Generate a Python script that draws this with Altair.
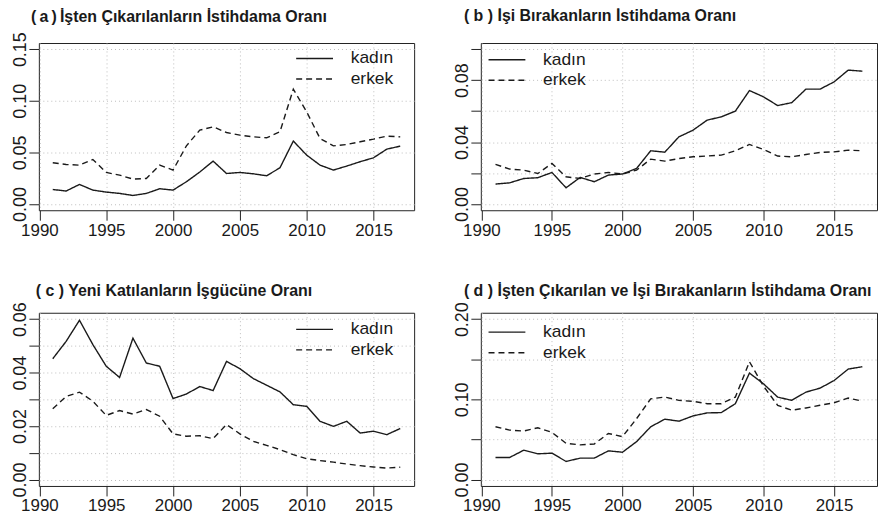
import altair as alt
import pandas as pd

years = list(range(1991, 2018))
series_names = ["kadın", "erkek"]

a_kadin = [0.0141, 0.0126, 0.0190, 0.0135, 0.0116, 0.0103, 0.0083, 0.0103, 0.0148, 0.0135,
           0.0216, 0.0310, 0.0416, 0.0296, 0.0306, 0.0293, 0.0274, 0.0351, 0.0610, 0.0474,
           0.0377, 0.0329, 0.0368, 0.0410, 0.0448, 0.0532, 0.0561]
a_erkek = [0.0400, 0.0383, 0.0377, 0.0432, 0.0306, 0.0280, 0.0242, 0.0248, 0.0377, 0.0329,
           0.0564, 0.0716, 0.0748, 0.0693, 0.0668, 0.0651, 0.0642, 0.0700, 0.1113, 0.0893,
           0.0635, 0.0564, 0.0577, 0.0603, 0.0629, 0.0658, 0.0651]

b_kadin = [0.0129, 0.0137, 0.0165, 0.0170, 0.0204, 0.0105, 0.0172, 0.0144, 0.0187, 0.0194,
           0.0230, 0.0344, 0.0335, 0.0434, 0.0477, 0.0542, 0.0563, 0.0600, 0.0733, 0.0692,
           0.0636, 0.0655, 0.0742, 0.0742, 0.0789, 0.0865, 0.0858]
b_erkek = [0.0256, 0.0226, 0.0219, 0.0197, 0.0262, 0.0176, 0.0165, 0.0194, 0.0204, 0.0194,
           0.0219, 0.0290, 0.0277, 0.0294, 0.0305, 0.0310, 0.0316, 0.0344, 0.0385, 0.0352,
           0.0310, 0.0305, 0.0320, 0.0333, 0.0337, 0.0348, 0.0344]

c_kadin = [0.0452, 0.0517, 0.0596, 0.0505, 0.0424, 0.0382, 0.0529, 0.0436, 0.0424, 0.0303,
           0.0320, 0.0348, 0.0333, 0.0442, 0.0415, 0.0378, 0.0353, 0.0328, 0.0280, 0.0274,
           0.0218, 0.0199, 0.0218, 0.0174, 0.0181, 0.0168, 0.0191]
c_erkek = [0.0265, 0.0311, 0.0327, 0.0293, 0.0240, 0.0258, 0.0245, 0.0262, 0.0237, 0.0171,
           0.0162, 0.0164, 0.0153, 0.0206, 0.0171, 0.0143, 0.0128, 0.0112, 0.0093, 0.0078,
           0.0071, 0.0065, 0.0058, 0.0052, 0.0047, 0.0043, 0.0046]

d_kadin = [0.0275, 0.0275, 0.0366, 0.0321, 0.0329, 0.0226, 0.0267, 0.0267, 0.0358, 0.0341,
           0.0473, 0.0658, 0.0753, 0.0728, 0.0794, 0.0831, 0.0835, 0.0946, 0.1328, 0.1193,
           0.1028, 0.0988, 0.1090, 0.1140, 0.1235, 0.1378, 0.1407]
d_erkek = [0.0658, 0.0617, 0.0605, 0.0646, 0.0588, 0.0452, 0.0432, 0.0444, 0.0575, 0.0535,
           0.0760, 0.1007, 0.1028, 0.0988, 0.0975, 0.0946, 0.0946, 0.1028, 0.1469, 0.1164,
           0.0926, 0.0864, 0.0893, 0.0926, 0.0958, 0.1016, 0.0979]

titles = [
    "(\u2009a\u2009)\u2009İşten Çıkarılanların İstihdama Oranı",
    "( b )  İşi Bırakanların İstihdama Oranı",
    "( c ) Yeni Katılanların İşgücüne Oranı",
    "( d )  İşten Çıkarılan ve İşi Bırakanların İstihdama Oranı",
]
x_ticks = [1990, 1995, 2000, 2005, 2010, 2015]

FONT = "Liberation Sans"
INK = "#1a1a1a"


def frame(k, e):
    return pd.DataFrame({
        "year": years * 2,
        "value": k + e,
        "grup": [series_names[0]] * len(years) + [series_names[1]] * len(years),
    })


def panel(df, title, dx, toff, ydomain, yticks, label_expr, width, height, lx, ly):
    return (
        alt.Chart(df)
        .mark_line(color=INK, strokeWidth=1.4)
        .encode(
            x=alt.X("year:Q",
                    scale=alt.Scale(domain=[1989.96, 2018.04], nice=False, zero=False),
                    axis=alt.Axis(values=x_ticks, format="d", title=None, labelFlush=False,
                                  labelOverlap=False, labelFontSize=17, labelPadding=2)),
            y=alt.Y("value:Q",
                    scale=alt.Scale(domain=ydomain, nice=False, zero=False),
                    axis=alt.Axis(values=yticks, title=None, labelAngle=270,
                                  labelAlign="center", labelBaseline="alphabetic",
                                  labelOverlap=False, labelFontSize=18, labelPadding=3,
                                  labelExpr=label_expr)),
            strokeDash=alt.StrokeDash(
                "grup:N",
                scale=alt.Scale(domain=series_names, range=[[1, 0], [6, 4]]),
                legend=alt.Legend(title=None, orient="none", legendX=lx, legendY=ly,
                                  symbolType="M-2,0H2", symbolSize=342.25,
                                  symbolStrokeWidth=1.4, symbolStrokeColor=INK,
                                  symbolFillColor="transparent",
                                  labelFontSize=17.5, labelFont=FONT, labelColor=INK,
                                  labelOffset=26.25, rowPadding=1.6, padding=0),
            ),
        )
        .properties(
            width=width, height=height,
            title=alt.TitleParams(title, anchor="start", frame="group", dx=dx,
                                  fontSize=16, font=FONT, fontWeight="bold",
                                  color=INK, baseline="alphabetic", offset=toff),
        )
    )


pa = panel(frame(a_kadin, a_erkek), titles[0], -8, -6, [-0.006, 0.156],
           [0, 0.05, 0.10, 0.15], "format(datum.value, '.2f')", 377, 168, 267, 5.5)
pb = panel(frame(b_kadin, b_erkek), titles[1], -17, 6, [-0.004, 0.104],
           [0, 0.02, 0.04, 0.06, 0.08, 0.10],
           "round(datum.value*100) % 4 == 0 ? format(datum.value, '.2f') : ''",
           398, 168, 16.25, 6.8)
pc = panel(frame(c_kadin, c_erkek), titles[2], -3, -10, [-0.0024, 0.0624],
           [0, 0.01, 0.02, 0.03, 0.04, 0.05, 0.06],
           "round(datum.value*100) % 2 == 0 ? format(datum.value, '.2f') : ''",
           377, 174, 267, 6.7)
pd_ = panel(frame(d_kadin, d_erkek), titles[3], -17, -10, [-0.008, 0.208],
            [0, 0.05, 0.10, 0.15, 0.20],
            "round(datum.value*100) % 10 == 0 ? format(datum.value, '.2f') : ''",
            398, 174, 16.25, 9.5)

chart = (
    alt.concat(pa, pb, pc, pd_, columns=2, bounds="flush",
               spacing={"row": 103, "column": 67})
    .resolve_scale(strokeDash="independent")
    .resolve_legend(strokeDash="independent")
    .properties(padding={"left": 3, "top": -2, "right": 0, "bottom": 0})
    .configure(font=FONT)
    .configure_view(stroke="#222222", strokeWidth=1)
    .configure_axis(domain=False, grid=True, gridDash=[1, 3], gridColor="#bdbdbd",
                    gridWidth=1, tickColor="#222222", tickSize=10, tickWidth=1,
                    labelFont=FONT, labelColor=INK)
)

chart.save("out.html", embed_options={"renderer": "svg", "actions": False})
